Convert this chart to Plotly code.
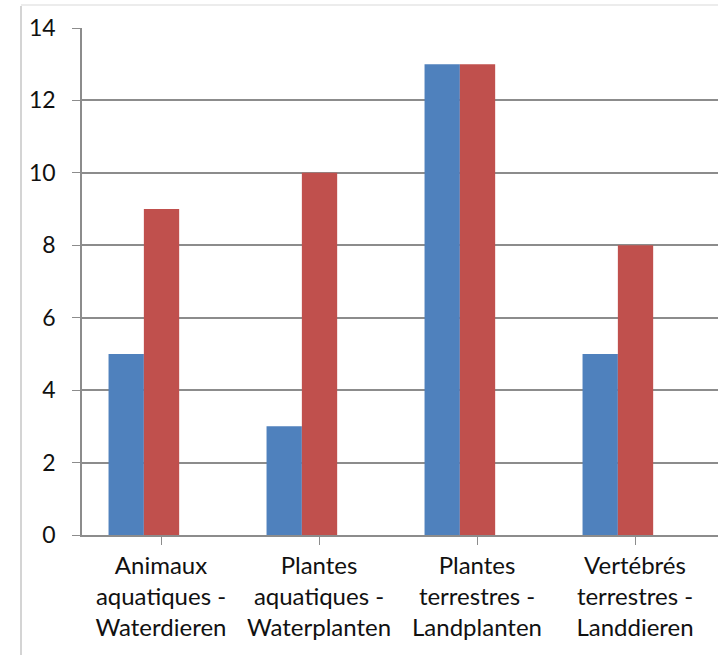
import plotly.graph_objects as go

categories = [
    "Animaux<br>aquatiques -<br>Waterdieren",
    "Plantes<br>aquatiques -<br>Waterplanten",
    "Plantes<br>terrestres -<br>Landplanten",
    "Vertébrés<br>terrestres -<br>Landdieren",
]
series_blue = [5, 3, 13, 5]
series_red = [9, 10, 13, 8]
y_ticks = [0, 2, 4, 6, 8, 10, 12, 14]

W, H = 718, 655
ML, MR, MT, MB = 82, 0, 28, 120
cat_px = 158.0
plot_w = W - ML - MR

bar_w = 0.2235
blue_off = -0.332

font = "Lato, 'Noto Sans', sans-serif"
grid = "#8c8c8c"

fig = go.Figure()
fig.add_trace(go.Bar(x=list(range(len(categories))), y=series_blue,
                     marker=dict(color="#4F81BD", line=dict(width=0)),
                     width=bar_w, offset=blue_off))
fig.add_trace(go.Bar(x=list(range(len(categories))), y=series_red,
                     marker=dict(color="#C0504D", line=dict(width=0)),
                     width=bar_w, offset=blue_off + bar_w))

# soft chart-area frame on the left and top
def px_x(p):
    return (p - ML) / plot_w

def px_y(p):
    return 1 - (p - MT) / (H - MT - MB)

shapes = [
    dict(type="line", xref="paper", yref="paper", x0=px_x(21), x1=px_x(21),
         y0=px_y(6), y1=px_y(H), line=dict(color="#d4d4d4", width=2)),
    dict(type="line", xref="paper", yref="paper", x0=px_x(21), x1=px_x(W),
         y0=px_y(5), y1=px_y(5), line=dict(color="#ececec", width=2)),
]

fig.update_layout(
    width=W, height=H,
    margin=dict(l=ML, r=MR, t=MT, b=MB),
    paper_bgcolor="white", plot_bgcolor="white",
    barmode="overlay",
    showlegend=False,
    font=dict(family=font, size=24, color="#111111"),
    shapes=shapes,
    xaxis=dict(
        range=[-0.5, -0.5 + plot_w / cat_px],
        tickmode="array", tickvals=list(range(len(categories))), ticktext=categories,
        tickson="boundaries", ticks="outside", ticklen=8, tickcolor=grid,
        showline=True, linecolor=grid, linewidth=1.5,
        showgrid=False, zeroline=False,
        tickfont=dict(size=24),
    ),
    yaxis=dict(
        range=[0, 14], tickvals=y_ticks,
        ticks="outside", ticklen=8, tickcolor=grid,
        showline=True, linecolor=grid, linewidth=1.5,
        showgrid=True, gridcolor=grid, gridwidth=1.5,
        zeroline=False, tickfont=dict(size=23),
        ticklabelstandoff=12,
    ),
)

fig.write_html("out.html")
